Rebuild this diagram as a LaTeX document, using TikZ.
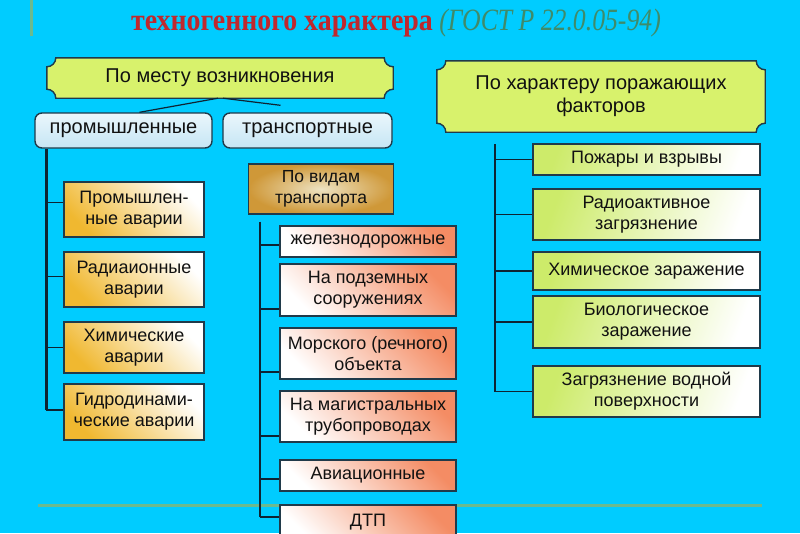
\documentclass[tikz,border=0pt]{standalone}
\usepackage{fontspec}
\setmainfont{Liberation Sans}
\newfontfamily\ttlfont[FakeStretch=0.9]{Liberation Serif}
\newfontfamily\gostfont[FakeStretch=0.83]{Liberation Serif}
\usepackage{tikz}
\usetikzlibrary{positioning,calc}
\definecolor{skybg}{HTML}{00CCFF}
\definecolor{rulegreen}{HTML}{6CBA8E}
\definecolor{ttlred}{HTML}{C0282D}
\definecolor{gostgreen}{HTML}{3F8B6A}
\definecolor{ink}{HTML}{111111}
\definecolor{boxline}{HTML}{203A4A}
\definecolor{busline}{HTML}{0E2433}
\definecolor{plaquefill}{HTML}{D8F26C}
\definecolor{tagtop}{HTML}{EAF7FC}
\definecolor{tagbot}{HTML}{C6E5F4}
\definecolor{kindin}{HTML}{EDE3C3}
\definecolor{kindout}{HTML}{CF9838}
\definecolor{indgold}{HTML}{F0B830}
\definecolor{trnsalmon}{HTML}{F48C64}
\definecolor{hzgreen}{HTML}{CDEB6A}
\pgfdeclarelayer{background}
\pgfsetlayers{background,main}

\begin{document}
\begin{tikzpicture}[
  x=1pt, y=-1pt,
  ttl/.style={font=\ttlfont\bfseries\fontsize{31}{35}\selectfont, text=ttlred, inner sep=0pt},
  gost/.style={font=\gostfont\itshape\fontsize{31}{35}\selectfont, text=gostgreen, inner sep=0pt},
  plaque/.style={fill=plaquefill, draw=boxline, line width=1.4pt},
  hdrtxt/.style={font=\fontsize{20}{23}\selectfont, text=ink, align=center, inner sep=0pt},
  tag/.style={rectangle, rounded corners=7pt, draw=boxline, line width=1.4pt,
    top color=tagtop, bottom color=tagbot, font=\fontsize{20}{23}\selectfont,
    text=ink, minimum width=#1, minimum height=35pt, inner sep=0pt},
  kind/.style={rectangle, draw=boxline, line width=1.4pt, inner color=kindin,
    outer color=kindout, font=\fontsize{17.5}{21}\selectfont, text=ink,
    align=center, minimum width=145pt, minimum height=50pt, inner sep=0pt},
  leaf/.style={rectangle, draw=boxline, line width=1.3pt, text=ink, align=center,
    inner sep=0pt, font=\fontsize{18}{21}\selectfont},
  ind/.style={leaf, top color=white, bottom color=indgold, shading angle=-45, minimum width=140pt},
  trn/.style={leaf, top color=white, bottom color=trnsalmon, shading angle=135, minimum width=176pt},
  hz/.style={leaf, top color=white, bottom color=hzgreen, shading angle=-110, minimum width=227pt},
  bus/.style={draw=busline, line width=2.4pt},
  twig/.style={draw=busline, line width=1.5pt},
  rule/.style={draw=rulegreen, line width=3pt}
]
\useasboundingbox (0,0) rectangle (800,533);
\begin{pgfonlayer}{background}
  \fill[skybg] (0,0) rectangle (800,533);
\end{pgfonlayer}

% --- rules ---
\draw[rule] (31,0) -- (31,36);
\draw[rule] (38,505) -- (762,505);

% --- title ---
\node[ttl] (title) at (282,26) {техногенного характера};
\node[gost, anchor=base west] (gost) at ([xshift=6pt]title.base east) {(ГОСТ Р 22.0.05-94)};

% --- headers ---
\node[hdrtxt, minimum width=346pt, minimum height=40pt] (place) at (220,78) {По месту возникновения};
\node[hdrtxt, minimum width=328pt, minimum height=71pt] (factor) at (601,96.5) {По характеру поражающих\\факторов};
\begin{pgfonlayer}{background}
\foreach \p in {place,factor} {
  \draw[plaque] ([yshift=-9pt]\p.north west)
    .. controls ([xshift=5pt,yshift=-9pt]\p.north west) and ([xshift=9pt,yshift=-5pt]\p.north west) .. ([xshift=9pt]\p.north west)
    -- ([xshift=-9pt]\p.north east)
    .. controls ([xshift=-9pt,yshift=-5pt]\p.north east) and ([xshift=-5pt,yshift=-9pt]\p.north east) .. ([yshift=-9pt]\p.north east)
    -- ([yshift=9pt]\p.south east)
    .. controls ([xshift=-5pt,yshift=9pt]\p.south east) and ([xshift=-9pt,yshift=5pt]\p.south east) .. ([xshift=-9pt]\p.south east)
    -- ([xshift=9pt]\p.south west)
    .. controls ([xshift=9pt,yshift=5pt]\p.south west) and ([xshift=5pt,yshift=9pt]\p.south west) .. ([yshift=9pt]\p.south west)
    -- cycle;
}
\end{pgfonlayer}

% --- place of origin ---
\node[tag=177pt] (prom) at (123.5,130.5) {промышленные};
\node[tag=169pt] (trans) at (307.5,130.5) {транспортные};
\coordinate (stub) at ([xshift=-27pt,yshift=7pt]trans.north);
\draw[twig, line width=1.2pt] ([xshift=-2pt]place.south) -- ([xshift=16pt]prom.north);
\draw[twig, line width=1.2pt] ([xshift=3pt]place.south) -- (stub);

% --- industrial ---
\foreach \n/\y/\h/\t in {1/209.5/55/{Промышлен-\\ные аварии}, 2/279.5/55/{Радиаионные\\аварии},
    3/347.5/51/{Химические\\аварии}, 4/412/56/{Гидродинами-\\ческие аварии}} {
  \node[ind, minimum height=\h pt] (ind\n) at (134,\y) {\t};
}
\coordinate (ibus) at ([xshift=12pt]prom.south west);
\draw[bus] (ibus) -- ([yshift=2pt]ibus |- ind4.west);
\foreach \n/\d in {1/7, 2/3, 3/0, 4/2} {
  \draw[twig] ([yshift=\d pt]ibus |- ind\n.west) -- ([yshift=\d pt]ind\n.west);
}

% --- transport ---
\node[kind] (kind) at (321,189) {По видам\\транспорта};
\foreach \n/\y/\h/\t in {1/241.5/31/железнодорожные, 2/290/52/{На подземных\\сооружениях},
    3/353.5/51/{Морского (речного)\\объекта}, 4/416.5/51/{На магистральных\\трубопроводах},
    5/475.5/31/Авиационные, 6/522.5/35/ДТП} {
  \node[trn, minimum height=\h pt] (trn\n) at (368,\y) {\t};
}
\coordinate (tbus) at ([xshift=12pt,yshift=-7pt]kind.south west);
\draw[bus] (tbus) -- ([yshift=5.5pt]tbus |- trn6.west);
\foreach \n/\d in {1/-3.5, 2/-19, 3/-18.5, 4/-19.5, 5/-3.5, 6/5.5} {
  \draw[twig] ([yshift=\d pt]tbus |- trn\n.west) -- ([yshift=\d pt]trn\n.west);
}

% --- damaging factors ---
\foreach \n/\y/\h/\t in {1/159.5/31/Пожары и взрывы, 2/214.5/51/{Радиоактивное\\загрязнение},
    3/271/38/Химическое заражение, 4/322/52/{Биологическое\\заражение},
    5/391.5/51/{Загрязнение водной\\поверхности}} {
  \node[hz, minimum height=\h pt] (hz\n) at (646.5,\y) {\t};
}
\coordinate (hbus) at ([xshift=58pt,yshift=-12pt]factor.south west);
\draw[bus] (hbus) -- (hbus |- hz5.west);
\foreach \n in {1,...,5} {
  \draw[twig] (hbus |- hz\n.west) -- (hz\n.west);
}

\end{tikzpicture}
\end{document}
